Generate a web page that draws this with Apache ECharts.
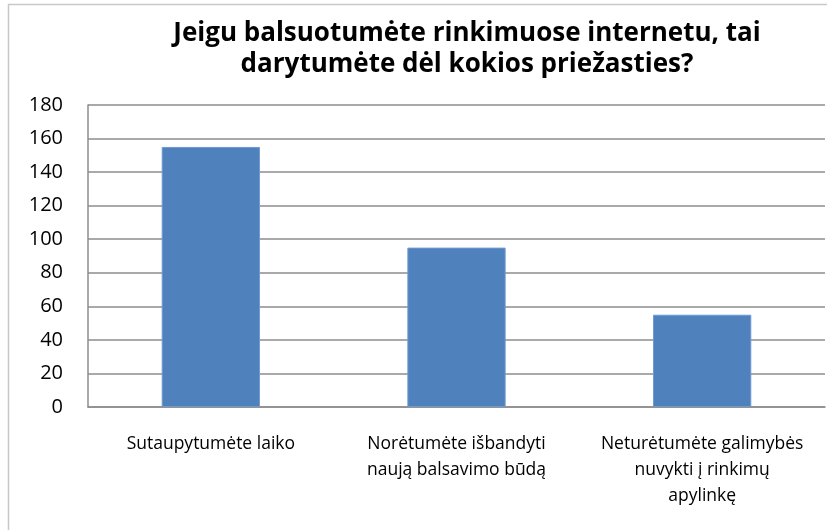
<!DOCTYPE html>
<html>
<head>
<meta charset="utf-8">
<script src="https://cdn.jsdelivr.net/npm/echarts@6/dist/echarts.min.js"></script>
<style>
  html, body { margin: 0; padding: 0; background: #fff; }
  #chart { width: 827px; height: 530px; }
</style>
</head>
<body>
<div id="chart"></div>
<script>
// duomenys
const categories = [
  'Sutaupytumėte laiko',
  'Norėtumėte išbandyti\nnaują balsavimo būdą',
  'Neturėtumėte galimybės\nnuvykti į rinkimų\napylinkę'
]
const values = [155, 95, 55]
const titleLines = ['Jeigu balsuotumėte rinkimuose internetu, tai', 'darytumėte dėl kokios priežasties?']

const chart = echarts.init(document.getElementById('chart'))
const option = {
  animation: false,
  title: {
    text: titleLines.join('\n'),
    left: 462,
    textAlign: 'center',
    top: 13,
    textStyle: {
      fontFamily: 'Open Sans',
      fontWeight: 'bold',
      fontSize: 26,
      lineHeight: 31,
      color: '#000'
    }
  },
  graphic: [{
    type: 'rect',
    shape: { x: 8.5, y: 4.5, width: 900, height: 600 },
    style: { fill: 'none', stroke: '#c8c8c8', lineWidth: 1.5 },
    silent: true
  }],
  grid: { left: 88, right: 2, top: 105, bottom: 123 },
  xAxis: {
    type: 'category',
    data: categories,
    axisLine: { lineStyle: { color: '#8c8c8c', width: 1.5 } },
    axisTick: { show: false },
    axisLabel: {
      interval: 0,
      margin: 24,
      fontFamily: 'Open Sans',
      fontSize: 17.5,
      lineHeight: 26,
      color: '#000'
    }
  },
  yAxis: {
    type: 'value',
    min: 0,
    max: 180,
    interval: 20,
    axisLine: { show: true, lineStyle: { color: '#8c8c8c', width: 1.5 } },
    axisTick: { show: false },
    splitLine: { lineStyle: { color: '#8c8c8c', width: 1.5 } },
    axisLabel: {
      margin: 25,
      fontFamily: 'Open Sans',
      fontSize: 20,
      color: '#000'
    }
  },
  series: [{
    type: 'bar',
    data: values,
    barWidth: '40%',
    itemStyle: { color: '#4f81bd', borderColor: '#6f9ad0', borderWidth: 1 }
  }]
}
chart.setOption(option)
</script>
</body>
</html>
